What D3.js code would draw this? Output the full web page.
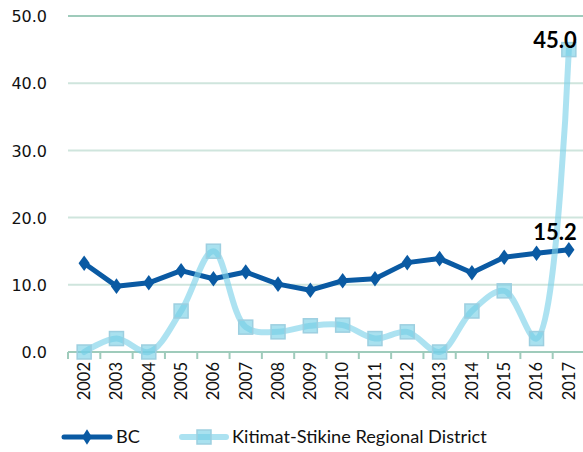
<!DOCTYPE html>
<html>
<head>
<meta charset="utf-8">
<script src="https://cdn.jsdelivr.net/npm/d3@7"></script>
<style>
  body { margin: 0; background: #fff; }
  svg { display: block; }
</style>
</head>
<body>
<div id="chart"></div>
<script>
// chart data
const years = ['2002', '2003', '2004', '2005', '2006', '2007', '2008', '2009',
               '2010', '2011', '2012', '2013', '2014', '2015', '2016', '2017'];
const bcValues = [13.2, 9.8, 10.3, 12.1, 10.9, 11.9, 10.1, 9.2,
                  10.6, 10.9, 13.3, 13.9, 11.8, 14.1, 14.7, 15.2];
const kitimatValues = [0.0, 2.0, 0.0, 6.1, 15.0, 3.7, 3.0, 3.9,
                       4.0, 2.0, 3.0, 0.0, 6.1, 9.1, 2.0, 45.0];
const yTicks = [0, 10, 20, 30, 40, 50];
const seriesNames = ['BC', 'Kitimat-Stikine Regional District'];

const width = 583, height = 452;
const margin = { top: 16, right: 0, bottom: 100, left: 68 };

const svg = d3.select('#chart').append('svg')
    .attr('width', width)
    .attr('height', height);

// scales
const x = d3.scaleBand()
    .domain(years)
    .range([margin.left, 585]);

const y = d3.scaleLinear()
    .domain([0, 50])
    .range([352, margin.top]);

const cx = d => x(d) + x.bandwidth() / 2;

// gridlines
svg.append('g')
    .selectAll('line')
    .data(yTicks.filter(t => t > 0))
    .enter().append('line')
    .attr('x1', margin.left)
    .attr('x2', width)
    .attr('y1', d => y(d))
    .attr('y2', d => y(d))
    .attr('stroke', d => d === 50 ? '#9fcbbb' : '#cfe5dd')
    .attr('stroke-width', 2);

// y axis labels
const yAxis = d3.axisLeft(y)
    .tickValues(yTicks)
    .tickFormat(d3.format('.1f'))
    .tickSize(0)
    .tickPadding(0);

svg.append('g')
    .attr('transform', 'translate(47,0)')
    .call(yAxis)
    .call(g => g.select('.domain').remove())
    .selectAll('text')
    .style('font-family', '"DejaVu Sans", sans-serif')
    .style('font-size', '16px')
    .attr('fill', '#111')
    .attr('dy', '0.36em');

// x axis (ticks between categories)
const xAxisG = svg.append('g')
    .attr('transform', 'translate(0,352)');

xAxisG.append('line')
    .attr('x1', margin.left)
    .attr('x2', width)
    .attr('stroke', '#9fcbbb')
    .attr('stroke-width', 2);

xAxisG.selectAll('.tick-mark')
    .data(years)
    .enter().append('line')
    .attr('class', 'tick-mark')
    .attr('x1', d => x(d))
    .attr('x2', d => x(d))
    .attr('y1', 0)
    .attr('y2', 7)
    .attr('stroke', '#9fcbbb')
    .attr('stroke-width', 2);

xAxisG.selectAll('.year-label')
    .data(years)
    .enter().append('text')
    .attr('class', 'year-label')
    .attr('transform', d => `translate(${cx(d)},10) rotate(-90)`)
    .attr('text-anchor', 'end')
    .attr('dy', '0.35em')
    .style('font-family', 'Lato, sans-serif')
    .style('font-size', '16.5px')
    .attr('fill', '#111')
    .text(d => d);

// line generators
const line = d3.line()
    .x((d, i) => cx(years[i]))
    .y(d => y(d));

const smoothLine = d3.line()
    .x((d, i) => cx(years[i]))
    .y(d => y(d))
    .curve(d3.curveCatmullRom.alpha(0.5));

// BC series
svg.append('path')
    .datum(bcValues)
    .attr('d', line)
    .attr('fill', 'none')
    .attr('stroke', '#0a5aa3')
    .attr('stroke-width', 5)
    .attr('stroke-linejoin', 'round');

const diamond = d3.symbol().type(d3.symbolDiamond).size(70);

svg.append('g')
    .selectAll('path')
    .data(bcValues)
    .enter().append('path')
    .attr('d', diamond)
    .attr('transform', (d, i) => `translate(${cx(years[i])},${y(d)}) scale(1.25,1)`)
    .attr('fill', '#0a5aa3');

// Kitimat series (drawn on top, translucent)
svg.append('path')
    .datum(kitimatValues)
    .attr('d', smoothLine)
    .attr('fill', 'none')
    .attr('stroke', '#7fd3ea')
    .attr('stroke-opacity', 0.65)
    .attr('stroke-width', 6)
    .attr('stroke-linecap', 'round');

svg.append('g')
    .selectAll('rect')
    .data(kitimatValues)
    .enter().append('rect')
    .attr('x', (d, i) => cx(years[i]) - 7)
    .attr('y', d => y(d) - 7)
    .attr('width', 14)
    .attr('height', 14)
    .attr('fill', '#6fcde4')
    .attr('fill-opacity', 0.6)
    .attr('stroke', '#9dcfe0')
    .attr('stroke-width', 1.5);

// end labels
const last = years.length - 1;
svg.append('text')
    .attr('x', cx(years[last]) + 8)
    .attr('y', y(kitimatValues[last]) - 2)
    .attr('text-anchor', 'end')
    .style('font-family', 'Lato, sans-serif')
    .style('font-weight', 'bold')
    .style('font-size', '22px')
    .attr('fill', '#000')
    .text(d3.format('.1f')(kitimatValues[last]));

svg.append('text')
    .attr('x', cx(years[last]) + 8)
    .attr('y', y(bcValues[last]) - 10)
    .attr('text-anchor', 'end')
    .style('font-family', 'Lato, sans-serif')
    .style('font-weight', 'bold')
    .style('font-size', '22px')
    .attr('fill', '#000')
    .text(d3.format('.1f')(bcValues[last]));

// legend
const legend = svg.append('g')
    .attr('transform', 'translate(0,437)');

legend.append('line')
    .attr('x1', 64).attr('x2', 110)
    .attr('stroke', '#0a5aa3')
    .attr('stroke-width', 5)
    .attr('stroke-linecap', 'round');
legend.append('path')
    .attr('d', diamond)
    .attr('transform', 'translate(87,0) scale(1.1,1)')
    .attr('fill', '#0a5aa3');
legend.append('text')
    .attr('x', 116)
    .attr('dy', '0.35em')
    .style('font-family', 'Lato, sans-serif')
    .style('font-size', '18.2px')
    .attr('fill', '#111')
    .text(seriesNames[0]);

legend.append('line')
    .attr('x1', 182).attr('x2', 226)
    .attr('stroke', '#7fd3ea')
    .attr('stroke-opacity', 0.65)
    .attr('stroke-width', 6)
    .attr('stroke-linecap', 'round');
legend.append('rect')
    .attr('x', 197).attr('y', -7)
    .attr('width', 14).attr('height', 14)
    .attr('fill', '#6fcde4')
    .attr('fill-opacity', 0.6)
    .attr('stroke', '#9dcfe0')
    .attr('stroke-width', 1.5);
legend.append('text')
    .attr('x', 232)
    .attr('dy', '0.35em')
    .style('font-family', 'Lato, sans-serif')
    .style('font-size', '18.2px')
    .attr('fill', '#111')
    .text(seriesNames[1]);
</script>
</body>
</html>
